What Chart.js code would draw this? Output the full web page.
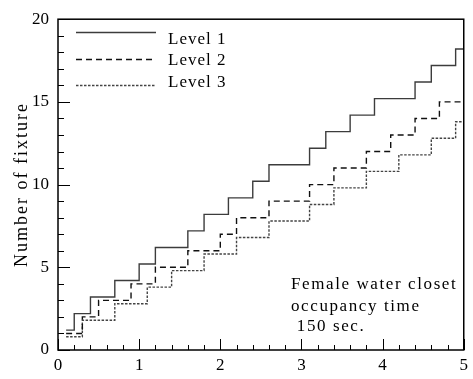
<!DOCTYPE html>
<html><head><meta charset="utf-8">
<script src="https://cdn.jsdelivr.net/npm/chart.js@4/dist/chart.umd.min.js"></script>
<style>html,body{margin:0;padding:0;background:#fff}#wrap{width:473px;height:379px;position:relative}</style>
</head><body><div id="wrap"><canvas id="c"></canvas></div>
<script>
const seriesNames = ['Level 1', 'Level 2', 'Level 3'];
const level1X = [0.1, 0.2, 0.4, 0.7, 1.0, 1.2, 1.6, 1.8, 2.1, 2.4, 2.6, 3.1, 3.3, 3.6, 3.9, 4.4, 4.6, 4.9, 5.0];
const level1Y = [1.2, 2.2, 3.2, 4.2, 5.2, 6.2, 7.2, 8.2, 9.2, 10.2, 11.2, 12.2, 13.2, 14.2, 15.2, 16.2, 17.2, 18.2, 18.2];
const level2X = [0.1, 0.3, 0.5, 0.9, 1.2, 1.6, 2.0, 2.2, 2.6, 3.1, 3.4, 3.8, 4.1, 4.4, 4.7, 5.0];
const level2Y = [1.0, 2.0, 3.0, 4.0, 5.0, 6.0, 7.0, 8.0, 9.0, 10.0, 11.0, 12.0, 13.0, 14.0, 15.0, 15.0];
const level3X = [0.1, 0.3, 0.7, 1.1, 1.4, 1.8, 2.2, 2.6, 3.1, 3.4, 3.8, 4.2, 4.6, 4.9, 5.0];
const level3Y = [0.8, 1.8, 2.8, 3.8, 4.8, 5.8, 6.8, 7.8, 8.8, 9.8, 10.8, 11.8, 12.8, 13.8, 13.8];
const xTickLabels = ['0', '1', '2', '3', '4', '5'];
const yTickLabels = ['0', '5', '10', '15', '20'];
const yTitle = 'Number of fixture';
const noteLines = ['Female water closet', 'occupancy time', ' 150 sec.'];

const SERIF = '"Liberation Serif", "DejaVu Serif", serif';
const pts = (xs, ys) => xs.map((x, i) => ({x, y: ys[i]}));

const styles = [
  {color: '#3c3c3c', dash: []},
  {color: '#111111', dash: [6, 4]},
  {color: '#444444', dash: [2.5, 1.5]}
];

const datasets = [[level1X, level1Y], [level2X, level2Y], [level3X, level3Y]].map((s, i) => ({
  label: seriesNames[i],
  data: pts(s[0], s[1]),
  stepped: 'before',
  borderColor: styles[i].color,
  borderDash: styles[i].dash,
  borderWidth: 1.4,
  pointRadius: 0,
  fill: false
}));

const decor = {
  id: 'decor',
  afterDatasetsDraw(chart) {
    const ctx = chart.ctx, a = chart.chartArea;
    const xs = chart.scales.x, ys = chart.scales.y;
    ctx.save();
    ctx.strokeStyle = '#000';
    ctx.lineWidth = 1.5;
    ctx.setLineDash([]);
    ctx.strokeRect(a.left, a.top, a.right - a.left, a.bottom - a.top);
    ctx.lineWidth = 1;
    for (let k = 0; k <= 25; k++) {
      const v = k * 0.2;
      const px = Math.round(xs.getPixelForValue(v)) + 0.5;
      const len = (k % 5 === 0) ? 11 : 5;
      ctx.beginPath(); ctx.moveTo(px, a.bottom); ctx.lineTo(px, a.bottom - len); ctx.stroke();
    }
    for (let v = 0; v <= 20; v++) {
      const py = Math.round(ys.getPixelForValue(v)) + 0.5;
      const len = (v % 5 === 0) ? 12 : 6;
      ctx.beginPath(); ctx.moveTo(a.left, py); ctx.lineTo(a.left + len, py); ctx.stroke();
    }
    // legend
    ctx.fillStyle = '#000';
    ctx.textBaseline = 'middle';
    ctx.font = '17px ' + SERIF;
    const lineY = [32.5, 59.5, 85.5];
    const textY = [40, 61, 83];
    datasets.forEach((d, i) => {
      ctx.strokeStyle = d.borderColor;
      ctx.lineWidth = 1.4;
      ctx.setLineDash(d.borderDash);
      ctx.beginPath(); ctx.moveTo(76, lineY[i]); ctx.lineTo(156, lineY[i]); ctx.stroke();
      ctx.setLineDash([]);
      ctx.letterSpacing = '1px';
      ctx.fillText(d.label, 168, textY[i]);
    });
    // note
    ctx.letterSpacing = '1.6px';
    const noteY = [285, 307, 327];
    noteLines.forEach((t, i) => ctx.fillText(t, 291, noteY[i]));
    // y title
    ctx.font = '18px ' + SERIF;
    ctx.letterSpacing = '2px';
    ctx.textAlign = 'center';
    ctx.translate(22, (a.top + a.bottom) / 2);
    ctx.rotate(-Math.PI / 2);
    ctx.fillText(yTitle, 0, 0);
    ctx.restore();
  }
};

new Chart(document.getElementById('c'), {
  type: 'line',
  data: {datasets},
  options: {
    responsive: true,
    maintainAspectRatio: false,
    animation: false,
    layout: {padding: {top: 10, right: 7, left: 0, bottom: 0}},
    plugins: {legend: {display: false}, tooltip: {enabled: false}},
    scales: {
      x: {
        type: 'linear', min: 0, max: 5,
        afterFit(s) { s.height = 29; },
        border: {display: false},
        grid: {display: false, drawTicks: false},
        ticks: {
          stepSize: 1, padding: 5, color: '#000', maxRotation: 0,
          font: {family: SERIF, size: 17},
          callback: (v) => Number.isInteger(v) && xTickLabels[v] !== undefined ? xTickLabels[v] : ''
        }
      },
      y: {
        type: 'linear', min: 0, max: 20,
        afterFit(s) { s.width = 58; },
        border: {display: false},
        grid: {display: false, drawTicks: false},
        ticks: {
          stepSize: 5, padding: 9, color: '#000',
          font: {family: SERIF, size: 17},
          callback: (v) => yTickLabels[v / 5]
        }
      }
    }
  },
  plugins: [decor]
});
</script></body></html>
